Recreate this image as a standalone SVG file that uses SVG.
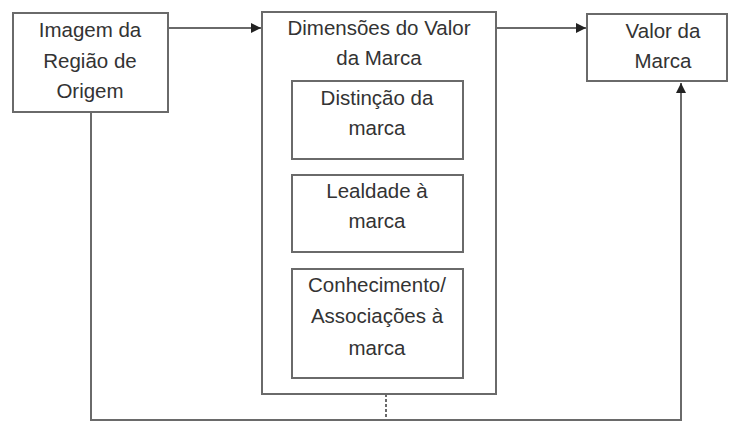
<svg xmlns="http://www.w3.org/2000/svg" width="732" height="423" viewBox="0 0 732 423">
<style>
.box{fill:#fff;stroke:#6a6a6a;stroke-width:2}
.ln{fill:none;stroke:#6a6a6a;stroke-width:2}
.dash{fill:none;stroke:#6a6a6a;stroke-width:2;stroke-dasharray:3 2}
text{font-family:"Liberation Sans",Arial,sans-serif;font-size:20.5px;fill:#333;text-anchor:middle}
</style>
<defs>
<marker id="ah" viewBox="0 0 10 10" refX="10" refY="5" markerWidth="5" markerHeight="5" orient="auto" markerUnits="strokeWidth">
<path d="M0,0 L10,5 L0,10 z" fill="#222"/>
</marker>
</defs>
<rect width="732" height="423" fill="#fff"/>
<g id="connectors">
<line class="ln" x1="168" y1="28" x2="261" y2="28" marker-end="url(#ah)"/>
<line class="ln" x1="496" y1="28" x2="586" y2="28" marker-end="url(#ah)"/>
<polyline class="ln" points="91,112 91,420 681,420 681,83" marker-end="url(#ah)"/>
<line class="dash" x1="386" y1="394" x2="386" y2="420"/>
</g>
<g id="n1">
<rect class="box" x="13" y="13" width="155" height="99"/>
<text x="90" y="37">Imagem da</text>
<text x="90" y="68">Região de</text>
<text x="90" y="98">Origem</text>
</g>
<g id="n2">
<rect class="box" x="262" y="12" width="234" height="382"/>
<text x="379" y="35">Dimensões do Valor</text>
<text x="379" y="65">da Marca</text>
</g>
<g id="n3">
<rect class="box" x="292" y="81" width="171" height="78"/>
<text x="377" y="105">Distinção da</text>
<text x="377" y="135">marca</text>
</g>
<g id="n4">
<rect class="box" x="292" y="175" width="171" height="77"/>
<text x="377" y="198">Lealdade à</text>
<text x="377" y="228">marca</text>
</g>
<g id="n5">
<rect class="box" x="292" y="269" width="171" height="109"/>
<text x="377" y="292">Conhecimento/</text>
<text x="377" y="323">Associações à</text>
<text x="377" y="355">marca</text>
</g>
<g id="n6">
<rect class="box" x="587" y="14" width="140" height="67"/>
<text x="663" y="38">Valor da</text>
<text x="663" y="68">Marca</text>
</g>
</svg>
